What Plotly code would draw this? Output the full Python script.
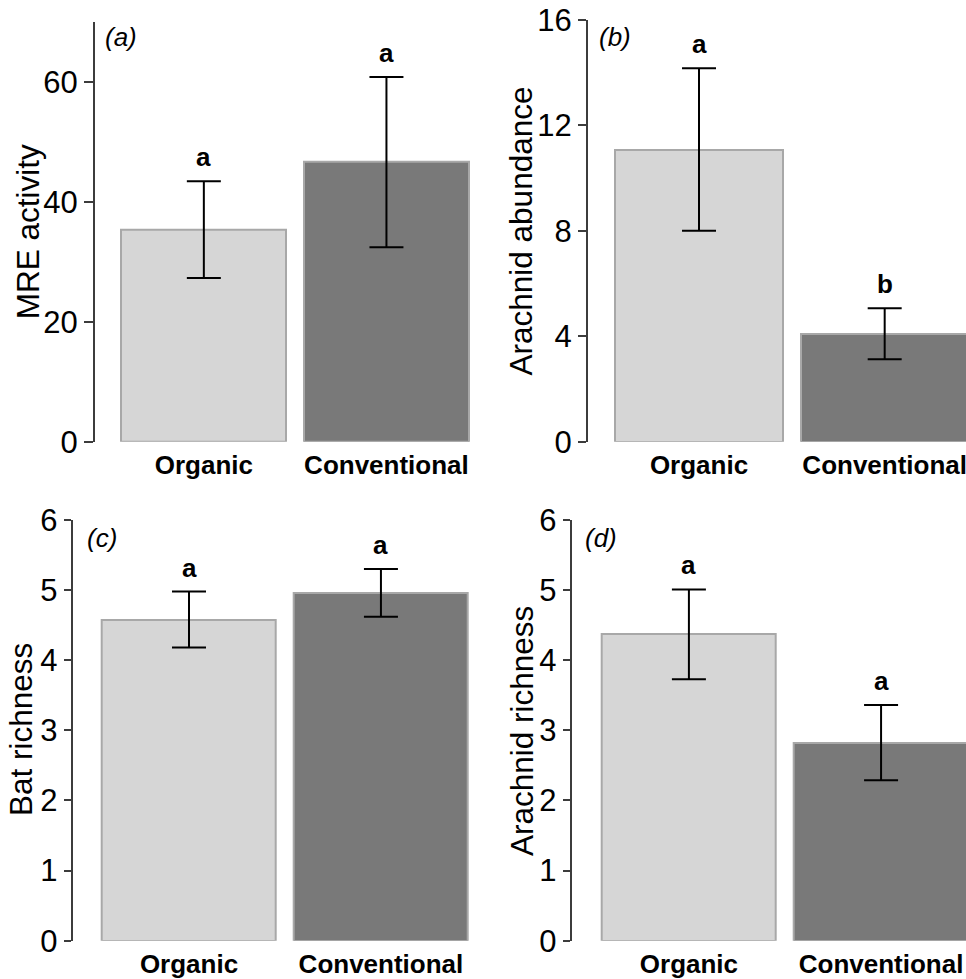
import plotly.graph_objects as go

# ---- data ----
categories = ["Organic", "Conventional"]

mre_mean = [35.4, 46.7]
mre_upper = [43.4, 60.8]
mre_lower = [27.3, 32.4]
mre_letters = ["a", "a"]

arach_ab_mean = [11.07, 4.09]
arach_ab_upper = [14.17, 5.06]
arach_ab_lower = [8.0, 3.13]
arach_ab_letters = ["a", "b"]

bat_rich_mean = [4.58, 4.96]
bat_rich_upper = [4.98, 5.30]
bat_rich_lower = [4.18, 4.62]
bat_rich_letters = ["a", "a"]

arach_rich_mean = [4.37, 2.82]
arach_rich_upper = [5.01, 3.36]
arach_rich_lower = [3.73, 2.29]
arach_rich_letters = ["a", "a"]

y_titles = ["MRE activity", "Arachnid abundance", "Bat richness", "Arachnid richness"]
panel_tags = ["(a)", "(b)", "(c)", "(d)"]
y_ticks = [[0, 20, 40, 60], [0, 4, 8, 12, 16], [0, 1, 2, 3, 4, 5, 6], [0, 1, 2, 3, 4, 5, 6]]
y_max = [70, 16, 6, 6]

W, H = 966, 979
FONT = "Liberation Sans, Arial, Helvetica, sans-serif"
bar_colors = ["#d6d6d6", "#797979"]

panels = [
    dict(mean=mre_mean, up=mre_upper, lo=mre_lower, let=mre_letters,
         xpx=(95, 471), xr=(0.404, 2.463), ypx=(21.7, 441.7), tl=9,
         tag=(121, 37), title=(27.5, 231.7)),
    dict(mean=arach_ab_mean, up=arach_ab_upper, lo=arach_ab_lower, let=arach_ab_letters,
         xpx=(588, 966), xr=(0.402, 2.438), ypx=(20, 441.7), tl=8,
         tag=(615, 37.5), title=(521, 231.5)),
    dict(mean=bat_rich_mean, up=bat_rich_upper, lo=bat_rich_lower, let=bat_rich_letters,
         xpx=(72.7, 470), xr=(0.394, 2.464), ypx=(520, 940.7), tl=7,
         tag=(102, 538), title=(21, 730)),
    dict(mean=arach_rich_mean, up=arach_rich_upper, lo=arach_rich_lower, let=arach_rich_letters,
         xpx=(571.7, 966), xr=(0.39, 2.442), ypx=(520, 940.7), tl=7,
         tag=(601, 537.5), title=(522, 731)),
]

fig = go.Figure()
annotations = []
layout = {}

for i, p in enumerate(panels):
    n = i + 1
    xa = "x" if n == 1 else f"x{n}"
    ya = "y" if n == 1 else f"y{n}"
    fig.add_trace(go.Bar(
        x=[1, 2], y=p["mean"], width=0.905,
        marker=dict(color=bar_colors, line=dict(color="#a8a8a8", width=2)),
        error_y=dict(type="data", symmetric=False,
                     array=[u - m for u, m in zip(p["up"], p["mean"])],
                     arrayminus=[m - l for m, l in zip(p["mean"], p["lo"])],
                     color="black", thickness=2, width=17),
        xaxis=xa, yaxis=ya, showlegend=False, hoverinfo="skip",
    ))
    layout[f"xaxis{'' if n == 1 else n}"] = dict(
        domain=[p["xpx"][0] / W, p["xpx"][1] / W], range=list(p["xr"]),
        anchor=ya, tickvals=[1, 2], ticktext=categories, ticks="",
        showline=False, showgrid=False, zeroline=False, automargin=False,
        tickfont=dict(family=FONT, size=26, color="black", weight="bold"),
        ticklabelstandoff=5, ticklabeloverflow="allow", fixedrange=True,
    )
    layout[f"yaxis{'' if n == 1 else n}"] = dict(
        domain=[1 - p["ypx"][1] / H, 1 - p["ypx"][0] / H], range=[0, y_max[i]],
        anchor=xa, tickvals=y_ticks[i], ticks="outside", ticklen=p["tl"], tickwidth=2,
        tickcolor="#3c3c3c", showline=True, linecolor="#3c3c3c", linewidth=2,
        showgrid=False, zeroline=False, automargin=False,
        tickfont=dict(family=FONT, size=31, color="black"),
        ticklabelstandoff=0, ticklabeloverflow="allow", fixedrange=True,
    )
    for k in range(2):
        annotations.append(dict(
            x=k + 1, y=p["up"][k], xref=xa, yref=ya, text=p["let"][k],
            showarrow=False, yanchor="middle", yshift=24,
            font=dict(family=FONT, size=26, color="black", weight="bold"),
        ))
    annotations.append(dict(
        x=p["tag"][0] / W, y=1 - p["tag"][1] / H, xref="paper", yref="paper",
        text=panel_tags[i], showarrow=False, xanchor="center", yanchor="middle",
        font=dict(family=FONT, size=26, color="black", style="italic"),
    ))
    annotations.append(dict(
        x=p["title"][0] / W, y=1 - p["title"][1] / H, xref="paper", yref="paper",
        text=y_titles[i], showarrow=False, textangle=-90,
        xanchor="center", yanchor="middle",
        font=dict(family=FONT, size=31.5, color="black"),
    ))

fig.update_layout(
    width=W, height=H, margin=dict(l=0, r=0, t=0, b=0, autoexpand=False),
    paper_bgcolor="white", plot_bgcolor="white",
    annotations=annotations, bargap=0, **layout,
)

fig.write_html(
    "out.html",
    config={"displayModeBar": False},
    post_script="document.body.style.margin='0';document.body.style.overflow='hidden';",
)
